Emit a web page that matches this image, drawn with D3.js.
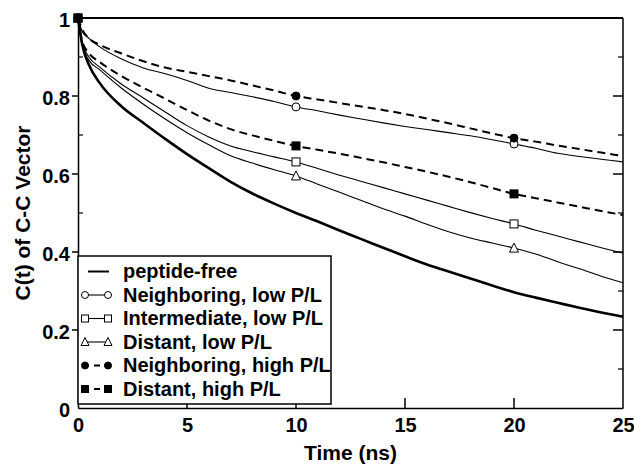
<!DOCTYPE html>
<html>
<head>
<meta charset="utf-8">
<script src="https://cdn.jsdelivr.net/npm/d3@7"></script>
<style>
  html, body { margin: 0; padding: 0; background: #fff; }
  svg text { font-family: "Liberation Sans", Arial, Helvetica, sans-serif; font-weight: bold; fill: #000; }
</style>
</head>
<body>
<svg id="chart" width="634" height="466"></svg>
<script>
// ---------------- data ----------------
const time = [0, 0.2, 0.5, 1, 2, 3, 4, 5, 6, 7, 8, 9, 10, 11, 12, 13, 14, 15, 16, 17, 18, 19, 20, 21, 22, 23, 24, 25];
const peptideFree = [1, 0.93, 0.88, 0.833, 0.773, 0.731, 0.69, 0.651, 0.615, 0.58, 0.55, 0.524, 0.50, 0.478, 0.455, 0.433, 0.411, 0.389, 0.368, 0.35, 0.332, 0.314, 0.297, 0.283, 0.27, 0.257, 0.245, 0.234];
const neighboringLow = [1, 0.965, 0.948, 0.926, 0.895, 0.872, 0.857, 0.84, 0.82, 0.809, 0.798, 0.786, 0.772, 0.762, 0.751, 0.741, 0.731, 0.722, 0.714, 0.706, 0.698, 0.688, 0.677, 0.666, 0.653, 0.645, 0.638, 0.631];
const intermediateLow = [1, 0.935, 0.9, 0.874, 0.83, 0.795, 0.759, 0.724, 0.695, 0.672, 0.657, 0.644, 0.631, 0.614, 0.597, 0.581, 0.565, 0.549, 0.533, 0.517, 0.501, 0.486, 0.472, 0.456, 0.441, 0.426, 0.411, 0.397];
const distantLow = [1, 0.93, 0.892, 0.867, 0.82, 0.779, 0.741, 0.706, 0.675, 0.647, 0.628, 0.611, 0.595, 0.574, 0.553, 0.532, 0.511, 0.492, 0.471, 0.452, 0.436, 0.423, 0.41, 0.395, 0.375, 0.357, 0.338, 0.321];
const neighboringHigh = [1, 0.97, 0.948, 0.931, 0.909, 0.889, 0.873, 0.862, 0.851, 0.84, 0.827, 0.814, 0.80, 0.791, 0.782, 0.773, 0.764, 0.754, 0.742, 0.73, 0.717, 0.704, 0.692, 0.683, 0.673, 0.664, 0.655, 0.646];
const distantHigh = [1, 0.94, 0.91, 0.887, 0.851, 0.821, 0.793, 0.764, 0.737, 0.715, 0.699, 0.685, 0.672, 0.662, 0.652, 0.641, 0.63, 0.618, 0.606, 0.593, 0.579, 0.564, 0.549, 0.538, 0.527, 0.516, 0.505, 0.495];
const markerTimes = [0, 10, 20];
const legendLabels = ["peptide-free", "Neighboring, low P/L", "Intermediate, low P/L", "Distant, low P/L", "Neighboring, high P/L", "Distant, high P/L"];
const xTicks = [0, 5, 10, 15, 20, 25];
const yTicks = [0, 0.2, 0.4, 0.6, 0.8, 1];
const yMinorTicks = [0.1, 0.3, 0.5, 0.7, 0.9];
const xLabel = "Time (ns)";
const yLabel = "C(t) of C-C Vector";

// ---------------- chart ----------------
const svg = d3.select("#chart");
const pLeft = 78, pRight = 623, pTop = 18, pBottom = 408;
const x = d3.scaleLinear().domain([0, 25]).range([pLeft, pRight]);
const y = d3.scaleLinear().domain([0, 1]).range([pBottom, pTop]);

const series = [
  { label: legendLabels[0], values: peptideFree, width: 2.6, dash: null, marker: null },
  { label: legendLabels[1], values: neighboringLow, width: 1.1, dash: null, marker: "circle", filled: false },
  { label: legendLabels[2], values: intermediateLow, width: 1.1, dash: null, marker: "square", filled: false },
  { label: legendLabels[3], values: distantLow, width: 1.1, dash: null, marker: "triangle", filled: false },
  { label: legendLabels[4], values: neighboringHigh, width: 2, dash: "8,5", marker: "circle", filled: true },
  { label: legendLabels[5], values: distantHigh, width: 2, dash: "8,5", marker: "square", filled: true }
];

const line = d3.line().x((d, i) => x(time[i])).y(d => y(d)).curve(d3.curveMonotoneX);

// curves
series.forEach(s => {
  svg.append("path")
    .attr("d", line(s.values))
    .attr("fill", "none")
    .attr("stroke", "#000")
    .attr("stroke-width", s.width)
    .attr("stroke-dasharray", s.dash);
});

function drawMarker(g, type, filled, cx, cy, size) {
  const fill = filled ? "#000" : "#fff";
  if (type === "circle") {
    g.append("circle").attr("cx", cx).attr("cy", cy).attr("r", size / 2)
      .attr("fill", fill).attr("stroke", "#000").attr("stroke-width", 1);
  } else if (type === "square") {
    g.append("rect").attr("x", cx - size / 2).attr("y", cy - size / 2)
      .attr("width", size).attr("height", size)
      .attr("fill", fill).attr("stroke", "#000").attr("stroke-width", 1);
  } else if (type === "triangle") {
    const h = size;
    g.append("path")
      .attr("d", `M${cx},${cy - h / 2 - 1}L${cx + h / 2 + 0.5},${cy + h / 2}L${cx - h / 2 - 0.5},${cy + h / 2}Z`)
      .attr("fill", fill).attr("stroke", "#000").attr("stroke-width", 1);
  }
}

// markers (draw in order so filled circle ends on top at t=0)
const mg = svg.append("g");
[3, 2, 1, 5, 4].forEach(k => {
  const s = series[k];
  markerTimes.forEach(t => {
    const i = time.indexOf(t);
    drawMarker(mg, s.marker, s.filled, x(t), y(s.values[i]), 8);
  });
});

// frame
svg.append("line").attr("x1", pLeft).attr("x2", pRight).attr("y1", pTop).attr("y2", pTop)
  .attr("stroke", "#000").attr("stroke-width", 2);
svg.append("line").attr("x1", pRight).attr("x2", pRight).attr("y1", pTop).attr("y2", pBottom)
  .attr("stroke", "#000").attr("stroke-width", 1.5);

// bottom axis
const xAxis = d3.axisBottom(x).tickValues(xTicks).tickSize(0).tickPadding(0).tickFormat(d3.format("d"));
const gx = svg.append("g").attr("transform", `translate(0,${pBottom})`).call(xAxis);
gx.select(".domain").attr("stroke-width", 1.5);
gx.selectAll("text").attr("font-size", 20).attr("y", 24).attr("dy", null)
  .style("font-family", '"Liberation Sans", Arial, sans-serif').style("font-weight", "bold");
// inward x ticks
svg.append("g").selectAll("line").data(xTicks.filter(t => t > 0 && t < 25)).join("line")
  .attr("x1", d => x(d)).attr("x2", d => x(d)).attr("y1", pBottom).attr("y2", pBottom - 10)
  .attr("stroke", "#000").attr("stroke-width", 1.5);

// left axis
const yAxis = d3.axisLeft(y).tickValues(yTicks).tickSize(0).tickPadding(8)
  .tickFormat(d => d === 0 || d === 1 ? d3.format("d")(d) : d3.format(".1f")(d));
const gy = svg.append("g").attr("transform", `translate(${pLeft},0)`).call(yAxis);
gy.select(".domain").attr("stroke-width", 1.5);
gy.selectAll("text").attr("font-size", 20).attr("dy", "0.4em")
  .style("font-family", '"Liberation Sans", Arial, sans-serif').style("font-weight", "bold");
// left major ticks (outward) and minor ticks (inward)
svg.append("g").selectAll("line").data(yTicks.filter(t => t > 0 && t < 1)).join("line")
  .attr("x1", pLeft - 6).attr("x2", pLeft).attr("y1", d => y(d)).attr("y2", d => y(d))
  .attr("stroke", "#000").attr("stroke-width", 1.5);
svg.append("g").selectAll("line").data(yMinorTicks).join("line")
  .attr("x1", pLeft).attr("x2", pLeft + 5).attr("y1", d => y(d)).attr("y2", d => y(d))
  .attr("stroke", "#000").attr("stroke-width", 1.2);
// right ticks (inward)
svg.append("g").selectAll("line").data(yTicks.filter(t => t > 0 && t < 1)).join("line")
  .attr("x1", pRight - 10).attr("x2", pRight).attr("y1", d => y(d)).attr("y2", d => y(d))
  .attr("stroke", "#000").attr("stroke-width", 1.5);
svg.append("g").selectAll("line").data(yMinorTicks).join("line")
  .attr("x1", pRight - 5).attr("x2", pRight).attr("y1", d => y(d)).attr("y2", d => y(d))
  .attr("stroke", "#000").attr("stroke-width", 1.2);

// axis titles
svg.append("text").attr("x", (pLeft + pRight) / 2).attr("y", 460)
  .attr("text-anchor", "middle").attr("font-size", 21).text(xLabel);
svg.append("text").attr("transform", `translate(30,${(pTop + pBottom) / 2}) rotate(-90)`)
  .attr("text-anchor", "middle").attr("font-size", 21).text(yLabel);

// legend
const lg = svg.append("g");
lg.append("rect").attr("x", pLeft).attr("y", 256).attr("width", 331 - pLeft).attr("height", 404 - 256)
  .attr("fill", "#fff").attr("stroke", "#000").attr("stroke-width", 1.5);
series.forEach((s, k) => {
  const base = 278 + k * 23.5;
  const cy = base - 6.5;
  if (!s.marker) {
    lg.append("line").attr("x1", 88).attr("x2", 109).attr("y1", cy).attr("y2", cy)
      .attr("stroke", "#000").attr("stroke-width", 2);
  } else {
    lg.append("line").attr("x1", 85).attr("x2", 108).attr("y1", cy).attr("y2", cy)
      .attr("stroke", "#000").attr("stroke-width", s.dash ? 2 : 1.1)
      .attr("stroke-dasharray", s.dash ? "4,5,6" : null);
    drawMarker(lg, s.marker, s.filled, 85, cy, 7);
    drawMarker(lg, s.marker, s.filled, 108, cy, 7);
  }
  lg.append("text").attr("x", 123).attr("y", base).attr("font-size", 20).text(s.label);
});
</script>
</body>
</html>
